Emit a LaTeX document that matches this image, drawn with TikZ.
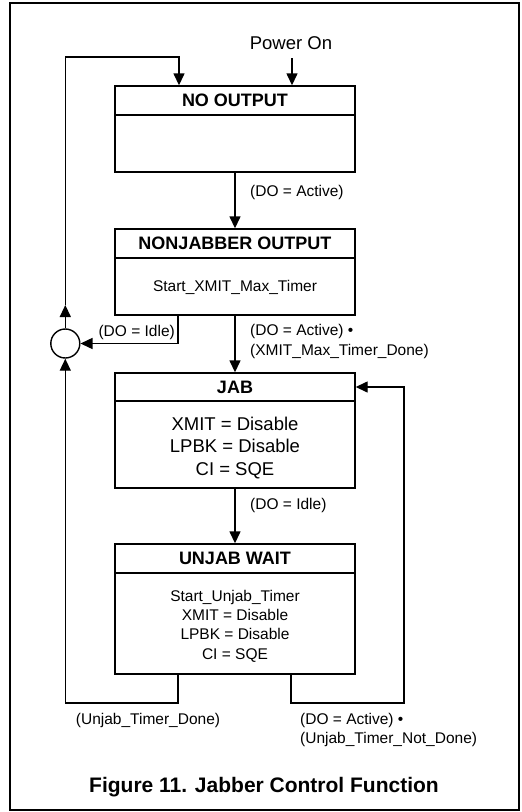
\documentclass[tikz,border=0pt]{standalone}
\usepackage{fontspec}
\setmainfont{Liberation Sans}
\usetikzlibrary{arrows.meta}
\begin{document}
\begin{tikzpicture}[x=1pt,y=-1pt,
  lw/.style={line width=1.4pt},
  arr/.style={lw,-{Triangle[length=12pt,width=11pt]}},
  stbox/.style={draw,lw,minimum width=240pt,inner sep=0pt},
  hdr/.style={draw,lw,minimum width=240pt,minimum height=29pt,inner sep=0pt,anchor=north,font=\fontsize{18}{20}\selectfont\bfseries},
  body/.style={align=center,inner sep=0pt,font=\fontsize{15.5}{19.3}\selectfont},
  bigbody/.style={align=center,inner sep=0pt,font=\fontsize{18.5}{22.5}\selectfont},
  lbl/.style={inner sep=0pt,font=\fontsize{15.5}{19.5}\selectfont,align=left},
  circ/.style={draw,lw,circle,minimum size=29pt,inner sep=0pt}]
\useasboundingbox (0,0) rectangle (522,812);
\draw[line width=1.3pt] (10,3) rectangle (519,810);

% states
\node[stbox,minimum height=86pt] (no) at (235,129) {};
\node[hdr] (noh) at (no.north) {NO OUTPUT};

\node[stbox,minimum height=86pt] (nj) at (235,272) {};
\node[hdr] (njh) at (nj.north) {NONJABBER OUTPUT};
\node[body] (njb) at (235,287) {Start\_XMIT\_Max\_Timer};

\node[stbox,minimum height=115pt] (jab) at (235,430.5) {};
\node[hdr,minimum height=28pt] (jabh) at (jab.north) {JAB};
\node[bigbody] (jabb) at (235,448) {XMIT = Disable\\LPBK = Disable\\CI = SQE};

\node[stbox,minimum height=130pt] (uw) at (235,609) {};
\node[hdr] (uwh) at (uw.north) {UNJAB WAIT};
\node[body] (uwb) at (235,626) {Start\_Unjab\_Timer\\XMIT = Disable\\LPBK = Disable\\CI = SQE};

\node[circ] (c) at (65.3,343.5) {};

% texts
\node[inner sep=0pt,font=\fontsize{18.5}{20}\selectfont] (pon) at (291,43) {Power On};
\node[lbl,anchor=west] (l1) at (250,192) {(DO = Active)};
\node[lbl,anchor=east] (l2) at (175,332) {(DO = Idle)};
\node[lbl,anchor=west] (l3) at (250,341.5) {(DO = Active) •\\(XMIT\_Max\_Timer\_Done)};
\node[lbl,anchor=west] (l4) at (250,505) {(DO = Idle)};
\node[lbl] (l5) at (148,720) {(Unjab\_Timer\_Done)};
\node[lbl,anchor=west] (l6) at (300,730) {(DO = Active) •\\(Unjab\_Timer\_Not\_Done)};
\node[inner sep=0pt,font=\fontsize{21}{24}\selectfont\bfseries] (cap) at (264,787) {Figure 11. Jabber Control Function};

% coordinates
\coordinate (pst) at (292,58);
\coordinate (ltop) at (65.3,57);
\coordinate (lin) at (179,0);
\coordinate (cmid) at (65.3,305);
\coordinate (idl) at (178,0);
\coordinate (lbot) at (65.3,703);
\coordinate (rx) at (291,0);
\coordinate (rbot) at (404,703);

% connectors
\draw[arr] (pst) -- (pst |- no.north);
\draw[arr] (c.north) -- (cmid);
\draw[arr] (cmid) -- (ltop) -| (lin |- no.north);
\draw[arr] (no.south) -- (nj.north);
\draw[arr] (idl |- nj.south) |- (c.east);
\draw[arr] (nj.south) -- (jab.north);
\draw[arr] (jab.south) -- (uw.north);
\draw[arr] (idl |- uw.south) |- (lbot) -- (c.south);
\draw[arr] (rx |- uw.south) |- (rbot) |- (jabh.east);
\end{tikzpicture}
\end{document}
